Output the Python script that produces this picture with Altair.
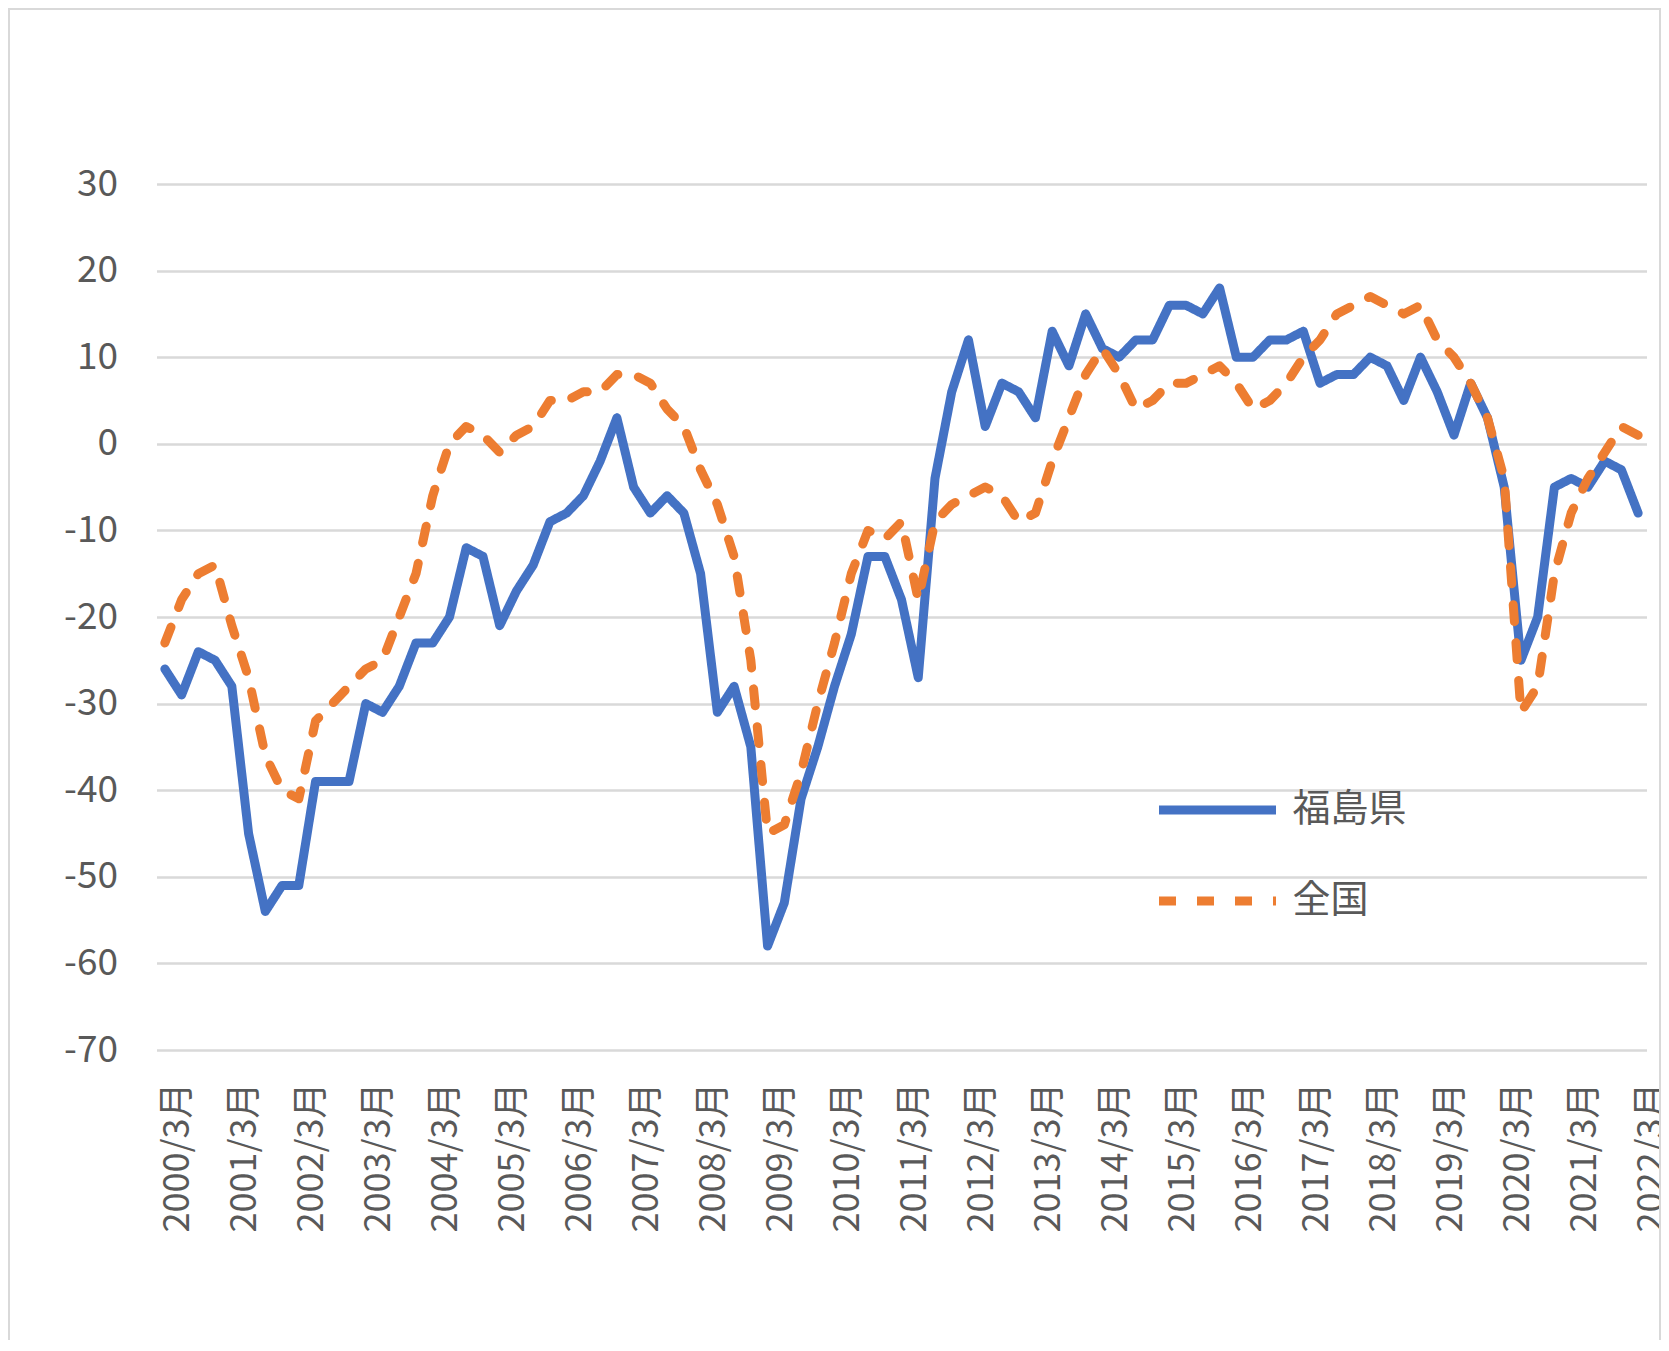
import altair as alt
import pandas as pd

# Quarterly periods 2000/3月 ... 2022/3月
years = list(range(2000, 2023))
months = [3, 6, 9, 12]
periods = [f"{y}/{m}月" for y in years for m in months][:89]
tick_labels = [p for p in periods if p.split("/")[1] == "3月"]

series_names = ["福島県", "全国"]
series_colors = ["#4472C4", "#ED7D31"]

fukushima = [-26, -29, -24, -25, -28, -45, -54, -51, -51, -39,
             -39, -39, -30, -31, -28, -23, -23, -20, -12, -13,
             -21, -17, -14, -9, -8, -6, -2, 3, -5, -8,
             -6, -8, -15, -31, -28, -35, -58, -53, -41, -35,
             -28, -22, -13, -13, -18, -27, -4, 6, 12, 2,
             7, 6, 3, 13, 9, 15, 11, 10, 12, 12,
             16, 16, 15, 18, 10, 10, 12, 12, 13, 7,
             8, 8, 10, 9, 5, 10, 6, 1, 7, 3,
             -5, -25, -20, -5, -4, -5, -2, -3, -8]

zenkoku = [-23, -18, -15, -14, -21, -27, -36, -40, -41, -32,
           -30, -28, -26, -25, -20, -15, -6, 0, 2, 1,
           -1, 1, 2, 5, 5, 6, 6, 8, 8, 7,
           4, 2, -3, -7, -13, -25, -45, -44, -38, -30,
           -23, -15, -10, -11, -9, -18, -9, -7, -6, -5,
           -6, -9, -8, -2, 3, 8, 11, 8, 4, 5,
           7, 7, 8, 9, 7, 4, 5, 7, 10, 12,
           15, 16, 17, 16, 15, 16, 12, 10, 7, 3,
           -4, -31, -28, -15, -8, -4, -1, 2, 1]

y_ticks = list(range(-70, 31, 10))

rows = []
for name, vals in zip(series_names, [fukushima, zenkoku]):
    for p, v in zip(periods, vals):
        rows.append({"period": p, "value": v, "series": name})
df = pd.DataFrame(rows)

FONT = "Noto Sans CJK JP"
GREY = "#595959"

legend_def = alt.Legend(
    title=None, orient="none", legendX=998, legendY=606,
    symbolType="stroke", symbolSize=13689, symbolStrokeWidth=9,
    labelFontSize=38, labelFont=FONT, labelColor=GREY, labelOffset=12,
    clipHeight=40, rowPadding=51,
)

lines = alt.Chart(df).mark_line(
    strokeWidth=9, strokeCap="round", strokeJoin="round"
).encode(
    x=alt.X("period:N", sort=periods,
            scale=alt.Scale(type="point", padding=0.5),
            axis=alt.Axis(values=tick_labels, title=None, labelAngle=270,
                          labelAlign="right", labelBaseline="middle",
                          labelFont=FONT, labelFontSize=36, labelColor=GREY,
                          labelPadding=32, labelOffset=13, ticks=False,
                          tickSize=0, domain=False, grid=False,
                          labelOverlap=False)),
    y=alt.Y("value:Q",
            scale=alt.Scale(domain=[-70, 30], nice=False, zero=False),
            axis=alt.Axis(values=y_ticks, title=None, labelFont=FONT,
                          labelExpr="'' + datum.value",
                          labelFontSize=37, labelColor=GREY, labelPadding=39,
                          ticks=False, tickSize=0, domain=False, grid=True,
                          gridColor="#d9d9d9", gridWidth=2.5)),
    color=alt.Color("series:N", sort=series_names,
                    scale=alt.Scale(domain=series_names, range=series_colors),
                    legend=legend_def),
    strokeDash=alt.StrokeDash("series:N", sort=series_names,
                              scale=alt.Scale(domain=series_names,
                                              range=[[1, 0], [17, 21]]),
                              legend=legend_def),
    order=alt.Order("series:N"),
)

frame = alt.Chart(alt.Data(values=[{"a": 1}])).mark_rect(
    fill=None, stroke="#d9d9d9", strokeWidth=2
).encode(
    x=alt.value(-147.5), x2=alt.value(1503.5),
    y=alt.value(-175), y2=alt.value(1158),
)

chart = alt.layer(frame, lines).properties(
    width=1490, height=866,
    padding={"left": 148.5, "top": 176, "right": 14.5, "bottom": 290},
    autosize=alt.AutoSizeParams(type="none"),
    background="white",
).configure_view(stroke=None)

chart.save("out.html", embed_options={"renderer": "svg", "actions": False})
